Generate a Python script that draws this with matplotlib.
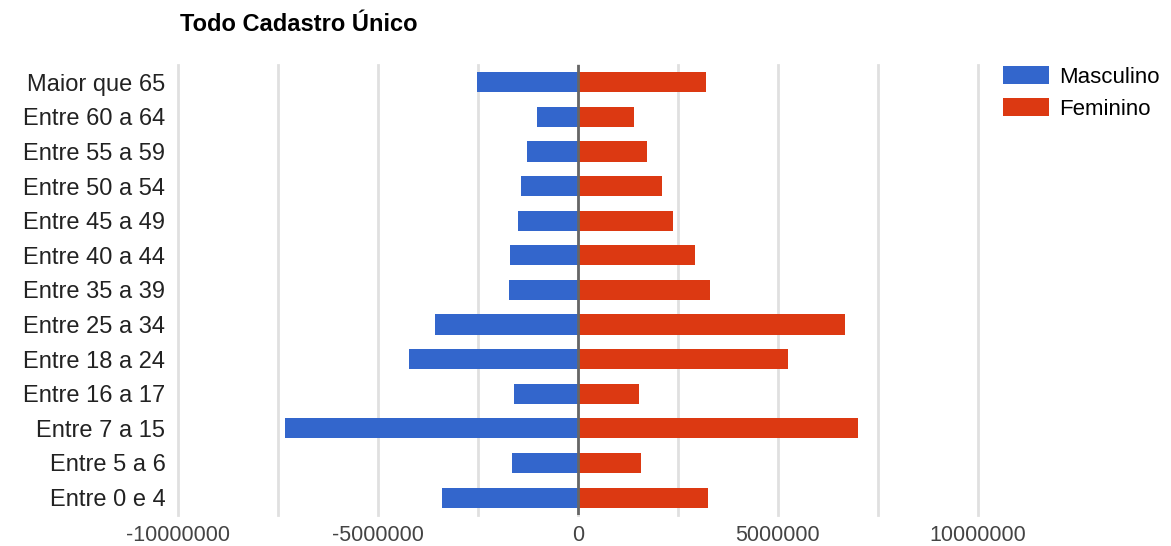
import matplotlib.pyplot as plt
import numpy as np

plt.rcParams['font.family'] = ['Liberation Sans', 'DejaVu Sans']

faixas = ['Maior que 65', 'Entre 60 a 64', 'Entre 55 a 59', 'Entre 50 a 54',
          'Entre 45 a 49', 'Entre 40 a 44', 'Entre 35 a 39', 'Entre 25 a 34',
          'Entre 18 a 24', 'Entre 16 a 17', 'Entre 7 a 15', 'Entre 5 a 6',
          'Entre 0 e 4']
masculino = [-2520000, -1030000, -1280000, -1430000, -1500000, -1700000,
             -1730000, -3580000, -4230000, -1600000, -7330000, -1650000,
             -3400000]
feminino = [3200000, 1400000, 1730000, 2100000, 2380000, 2930000,
            3300000, 6680000, 5250000, 1530000, 7000000, 1580000,
            3250000]
ticks = [-10000000, -5000000, 0, 5000000, 10000000]

fig = plt.figure(figsize=(11.71, 5.46), dpi=100)
ax = fig.add_axes([0.152, 0.057, 0.683, 0.824])

y = np.arange(len(faixas))
ax.barh(y, masculino, height=0.58, color='#3366cc', label='Masculino', zorder=3)
ax.barh(y, feminino, height=0.58, color='#dc3912', label='Feminino', zorder=3)

ax.set_xlim(-10000000, 10000000)
ax.set_ylim(len(faixas) - 0.5, -0.5)
ax.set_yticks(y)
ax.set_yticklabels(faixas, fontsize=17, color='#222222')
ax.set_xticks(ticks)
ax.set_xticklabels([str(t) for t in ticks], fontsize=15.5, color='#444444')
for gx in np.arange(-10000000, 10000001, 2500000):
    ax.axvline(gx, color='#e0e0e0', linewidth=2, zorder=0, clip_on=False)
ax.axvline(0, color='#666666', linewidth=2, zorder=4)
ax.tick_params(length=0, which='both')
ax.tick_params(axis='y', pad=9)
ax.tick_params(axis='x', pad=7)
for s in ax.spines.values():
    s.set_visible(False)

ax.legend(loc='upper left', bbox_to_anchor=(1.031, 0.998), frameon=False,
          borderaxespad=0, borderpad=0,
          fontsize=16, handlelength=2.1, handleheight=0.9, labelspacing=0.45,
          handletextpad=0.45)

fig.text(0.154, 0.955, 'Todo Cadastro Único', fontsize=17, fontweight='bold',
         va='center', ha='left')

fig.savefig('out.png', dpi=100)
